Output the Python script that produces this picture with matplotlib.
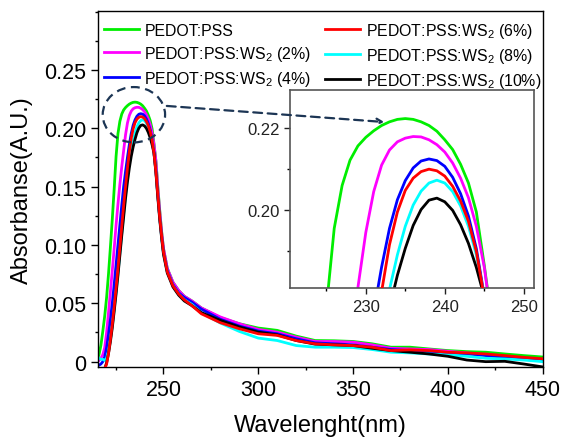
import matplotlib
matplotlib.use('Agg')
import matplotlib.pyplot as plt
from matplotlib.patches import Ellipse
from matplotlib.ticker import MultipleLocator

plt.rcParams['font.family'] = ['Liberation Sans', 'DejaVu Sans']
plt.rcParams['mathtext.fontset'] = 'custom'
plt.rcParams['mathtext.rm'] = 'Liberation Sans'
plt.rcParams['mathtext.it'] = 'Liberation Sans:italic'

# Data
wavelength = [215, 216, 217, 218, 219, 220, 221, 222, 223, 224,
              225, 226, 227, 228, 229, 230, 231, 232, 233, 234,
              235, 236, 237, 238, 239, 240, 241, 242, 243, 244,
              245, 246, 247, 248, 249, 250,
              252, 255, 258, 261, 265, 270,
              280, 290, 300, 310, 320, 330, 340, 350, 360, 370,
              380, 390, 400, 410, 420, 430, 440, 450]

abs_pedot = [0.002, 0.006, 0.014, 0.026, 0.039, 0.055, 0.075, 0.098, 0.122, 0.148,
             0.176, 0.1955, 0.2060, 0.2122, 0.2157, 0.2178, 0.2194, 0.2207, 0.2216, 0.2222,
             0.2224, 0.2222, 0.2216, 0.2207, 0.2193, 0.2172, 0.2148, 0.2112, 0.2066, 0.1995,
             0.1865, 0.172, 0.150, 0.130, 0.112, 0.097,
             0.080, 0.068, 0.061, 0.056, 0.052, 0.046,
             0.0377, 0.0325, 0.0288, 0.0268, 0.0219, 0.0181, 0.0179, 0.0173, 0.0153, 0.0124,
             0.0124, 0.0109, 0.0095, 0.0086, 0.0081, 0.0066, 0.0052, 0.0040]

abs_ws2_2 = [0.000, 0.001, 0.003, 0.006, 0.012, 0.025, 0.042, 0.060, 0.078, 0.097,
             0.117, 0.135, 0.152, 0.167, 0.181, 0.1945, 0.2045, 0.2110, 0.2147, 0.2167,
             0.2176, 0.2180, 0.2179, 0.2172, 0.2160, 0.2142, 0.2115, 0.2078, 0.2030, 0.1960,
             0.1860, 0.172, 0.149, 0.129, 0.111, 0.097,
             0.080, 0.068, 0.061, 0.056, 0.052, 0.046,
             0.0383, 0.0325, 0.0276, 0.0253, 0.0210, 0.0173, 0.0173, 0.0167, 0.0144, 0.0115,
             0.0109, 0.0104, 0.0089, 0.0075, 0.0058, 0.0043, 0.0029, 0.0012]

abs_ws2_4 = [-0.003, -0.003, -0.002, 0.000, 0.004, 0.012, 0.023, 0.036, 0.050, 0.066,
             0.083, 0.100, 0.117, 0.134, 0.150, 0.163, 0.175, 0.186, 0.1955, 0.2025,
             0.2072, 0.2103, 0.2120, 0.2125, 0.2121, 0.2107, 0.2080, 0.2040, 0.1985, 0.1905,
             0.179, 0.164, 0.143, 0.124, 0.108, 0.094,
             0.078, 0.066, 0.059, 0.055, 0.051, 0.045,
             0.0363, 0.0305, 0.0262, 0.0239, 0.0196, 0.0161, 0.0153, 0.0144, 0.0124, 0.0104,
             0.0095, 0.0086, 0.0075, 0.0066, 0.0052, 0.0037, 0.0023, 0.0006]

abs_ws2_6 = [-0.009, -0.009, -0.009, -0.009, -0.006, -0.002, 0.007, 0.019, 0.032, 0.047,
             0.063, 0.080, 0.098, 0.116, 0.134, 0.150, 0.166, 0.180, 0.1915, 0.1995,
             0.2048, 0.2078, 0.2094, 0.2100, 0.2096, 0.2083, 0.2058, 0.2022, 0.1972, 0.1898,
             0.1785, 0.163, 0.143, 0.124, 0.108, 0.094,
             0.077, 0.065, 0.058, 0.053, 0.048, 0.041,
             0.0334, 0.0282, 0.0239, 0.0225, 0.0181, 0.0153, 0.0144, 0.0138, 0.0124, 0.0095,
             0.0101, 0.0095, 0.0081, 0.0075, 0.0066, 0.0052, 0.0037, 0.0025]

abs_ws2_8 = [0.003, 0.003, 0.002, 0.002, 0.001, 0.003, 0.009, 0.019, 0.031, 0.045,
             0.060, 0.076, 0.093, 0.110, 0.127, 0.143, 0.158, 0.171, 0.1805, 0.1890,
             0.1960, 0.2012, 0.2046, 0.2066, 0.2073, 0.2066, 0.2045, 0.2010, 0.1960, 0.1890,
             0.1785, 0.164, 0.143, 0.124, 0.107, 0.093,
             0.077, 0.065, 0.058, 0.053, 0.049, 0.042,
             0.0331, 0.0259, 0.0202, 0.0181, 0.0138, 0.0124, 0.0124, 0.0121, 0.0104, 0.0081,
             0.0075, 0.0066, 0.0058, 0.0046, 0.0029, 0.0023, 0.0014, 0.0000]

abs_ws2_10 = [-0.009, -0.009, -0.009, -0.009, -0.006, -0.001, 0.007, 0.017, 0.029, 0.043,
              0.058, 0.074, 0.091, 0.108, 0.124, 0.140, 0.154, 0.166, 0.176, 0.1840,
              0.1906, 0.1962, 0.2001, 0.2024, 0.2029, 0.2020, 0.1999, 0.1964, 0.1918, 0.1859,
              0.1787, 0.162, 0.141, 0.122, 0.106, 0.092,
              0.076, 0.064, 0.057, 0.052, 0.048, 0.042,
              0.0354, 0.0297, 0.0253, 0.0230, 0.0181, 0.0150, 0.0144, 0.0138, 0.0115, 0.0095,
              0.0081, 0.0066, 0.0046, 0.0014, 0.0000, 0.0003, -0.0020, -0.0045]

labels = ['PEDOT:PSS', 'PEDOT:PSS:WS$_2$ (2%)', 'PEDOT:PSS:WS$_2$ (4%)',
          'PEDOT:PSS:WS$_2$ (6%)', 'PEDOT:PSS:WS$_2$ (8%)', 'PEDOT:PSS:WS$_2$ (10%)']
colors = ['#00ee00', '#ff00ff', '#0000ff', '#ff0000', '#00ffff', '#000000']
series = [abs_pedot, abs_ws2_2, abs_ws2_4, abs_ws2_6, abs_ws2_8, abs_ws2_10]
zorders = [2, 2.1, 2.2, 2.6, 2.3, 2.4]

x_ticks = [250, 300, 350, 400, 450]
y_ticks = [0, 0.05, 0.10, 0.15, 0.20, 0.25]
y_ticklabels = ['0', '0.05', '0.10', '0.15', '0.20', '0.25']
inset_x_ticks = [230, 240, 250]
inset_y_ticks = [0.20, 0.22]
inset_y_ticklabels = ['0.20', '0.22']

# Figure
fig = plt.figure(figsize=(5.64, 4.39), dpi=100)
ax = fig.add_axes([0.1732, 0.1606, 0.789, 0.8121])

for y, c, lab, z in zip(series, colors, labels, zorders):
    ax.plot(wavelength, y, color=c, lw=2, label=lab, zorder=z)

ax.set_xlim(215.3, 450)
ax.set_ylim(-0.005, 0.3005)
ax.set_xticks(x_ticks)
ax.xaxis.set_minor_locator(MultipleLocator(25))
ax.set_yticks(y_ticks)
ax.set_yticklabels(y_ticklabels)
ax.yaxis.set_minor_locator(MultipleLocator(0.025))
ax.tick_params(which='major', length=5, width=1, labelsize=15.5, direction='out')
ax.tick_params(which='minor', length=2.5, width=1, direction='out')
for s in ax.spines.values():
    s.set_linewidth(1)
ax.set_xlabel('Wavelenght(nm)', fontsize=17, labelpad=10)
ax.set_ylabel('Absorbanse(A.U.)', fontsize=17, labelpad=8)

ax.legend(loc='upper left', bbox_to_anchor=(0.0, 0.99), ncol=2, frameon=False,
          fontsize=11.4, handlelength=2.2, handletextpad=0.35, columnspacing=0.9,
          labelspacing=0.38, borderpad=0.2, borderaxespad=0.2)

# dashed circle around the peak
ell = Ellipse((234.4, 0.2116), 32.9, 0.0474, fill=False, ls=(0, (4, 2.5)),
              lw=1.6, edgecolor='#1c3554', zorder=5)
ax.add_patch(ell)

# Inset zoom on the peak
axin = fig.add_axes([0.5142, 0.341, 0.4326, 0.4517])
for y, c, z in zip(series, colors, zorders):
    axin.plot(wavelength, y, color=c, lw=2, zorder=z)
axin.set_xlim(220.4, 251.3)
axin.set_ylim(0.1808, 0.2294)
axin.set_xticks(inset_x_ticks)
axin.xaxis.set_minor_locator(MultipleLocator(5))
axin.set_yticks(inset_y_ticks)
axin.set_yticklabels(inset_y_ticklabels)
axin.yaxis.set_minor_locator(MultipleLocator(0.01))
axin.tick_params(which='major', length=4, width=1, labelsize=12, colors='#222222')
axin.tick_params(which='minor', length=2.5, width=1)
for s in axin.spines.values():
    s.set_linewidth(1.2)
    s.set_color('#555555')

axin.annotate('', xy=(232.7, 0.2215), xycoords='data',
              xytext=(250.3, 0.2193), textcoords=ax.transData,
              arrowprops=dict(arrowstyle='->', color='#1c3554', lw=1.6,
                              ls=(0, (4, 2.5))),
              annotation_clip=False)

fig.savefig('out.png', dpi=100)
